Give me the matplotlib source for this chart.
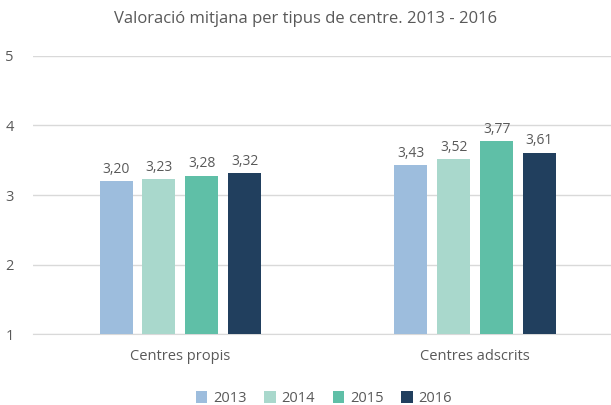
import matplotlib.pyplot as plt
import numpy as np

plt.rcParams['font.family'] = ['Open Sans', 'DejaVu Sans']

# Dades
categories = ['Centres propis', 'Centres adscrits']
anys = ['2013', '2014', '2015', '2016']
v2013 = [3.20, 3.43]
v2014 = [3.23, 3.52]
v2015 = [3.28, 3.77]
v2016 = [3.32, 3.61]
colors = ['#9dbddd', '#a9d8cc', '#5fbfa7', '#213f5e']

series = [v2013, v2014, v2015, v2016]
gris = '#595959'

fig = plt.figure(figsize=(6.11, 4.05), dpi=100)
ax = fig.add_axes([0.054, 0.175, 0.965, 0.687])

x = np.arange(len(categories))
ample = 0.112
pas = 0.1455
for i, vals in enumerate(series):
    pos = x + (i - 1.5) * pas
    ax.bar(pos, [v - 1 for v in vals], bottom=1, width=ample, color=colors[i],
           label=anys[i], zorder=3)
    for p, v in zip(pos, vals):
        ax.text(p, v + 0.06, f'{v:.2f}'.replace('.', ','), ha='center', va='bottom',
                fontsize=10, color=gris)

ax.set_xlim(-0.5, 1.5)
ax.set_ylim(1, 5)
ax.set_yticks([1, 2, 3, 4, 5])
ax.set_xticks(x)
ax.set_xticklabels(categories, fontsize=10.5, color=gris)
ax.tick_params(axis='y', labelsize=10.5, colors=gris, length=0, pad=14)
ax.tick_params(axis='x', length=0, pad=11)
ax.grid(axis='y', color='#d9d9d9', linewidth=1, zorder=0)
for s in ['top', 'right', 'left']:
    ax.spines[s].set_visible(False)
ax.spines['bottom'].set_color('#d9d9d9')

fig.text(0.5, 0.952, 'Valoració mitjana per tipus de centre. 2013 - 2016', ha='center',
         va='center', fontsize=12, color=gris)

fig.legend(loc='lower center', bbox_to_anchor=(0.53, -0.035), ncol=4, frameon=False,
           fontsize=10.5, labelcolor=gris, handlelength=0.8, handleheight=0.8,
           handletextpad=0.4, columnspacing=1.2)

fig.savefig('out.png', dpi=100)
